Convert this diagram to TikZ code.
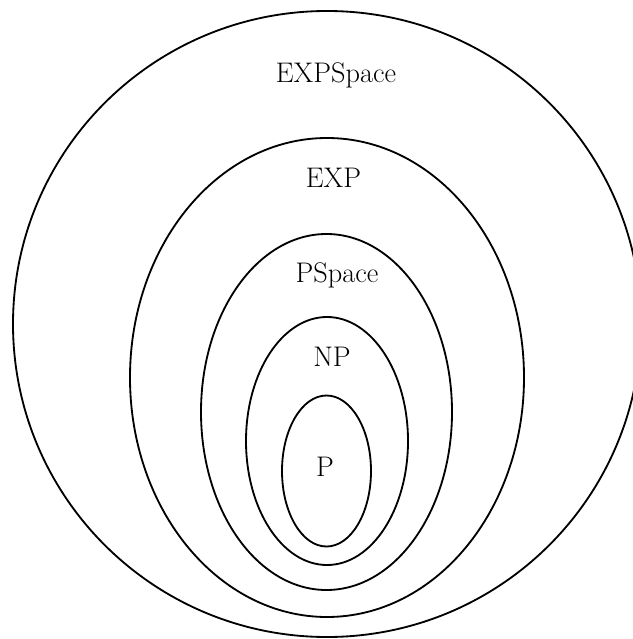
\documentclass[tikz,border=0pt]{standalone}
\usepackage{tikz}

\begin{document}
\begin{tikzpicture}[
  x=0.6pt, y=-0.6pt, line width=1.1pt,
  cls/.style={anchor=base, inner sep=0pt, font=\fontsize{17}{20}\selectfont}
]
  \useasboundingbox (0,0) rectangle (632,639);
  \coordinate (cexpspace) at (327,324);
  \coordinate (cexp) at (327,377.5);
  \coordinate (cpspace) at (326.5,412);
  \coordinate (cnp) at (327,441);
  \coordinate (cp) at (326.5,471);
  \draw (cexpspace) ellipse [x radius=314, y radius=313];
  \draw (cexp) ellipse [x radius=197, y radius=239.5];
  \draw (cpspace) ellipse [x radius=125.5, y radius=178];
  \draw (cnp) ellipse [x radius=81, y radius=124];
  \draw (cp) ellipse [x radius=44.5, y radius=75.5];
  \node[cls] (expspace) at (336,83) {EXPSpace};
  \node[cls] (exp) at (333.5,188) {EXP};
  \node[cls] (pspace) at (337,282) {PSpace};
  \node[cls] (np) at (332,366) {NP};
  \node[cls] (p) at (325,476) {P};
\end{tikzpicture}
\end{document}
